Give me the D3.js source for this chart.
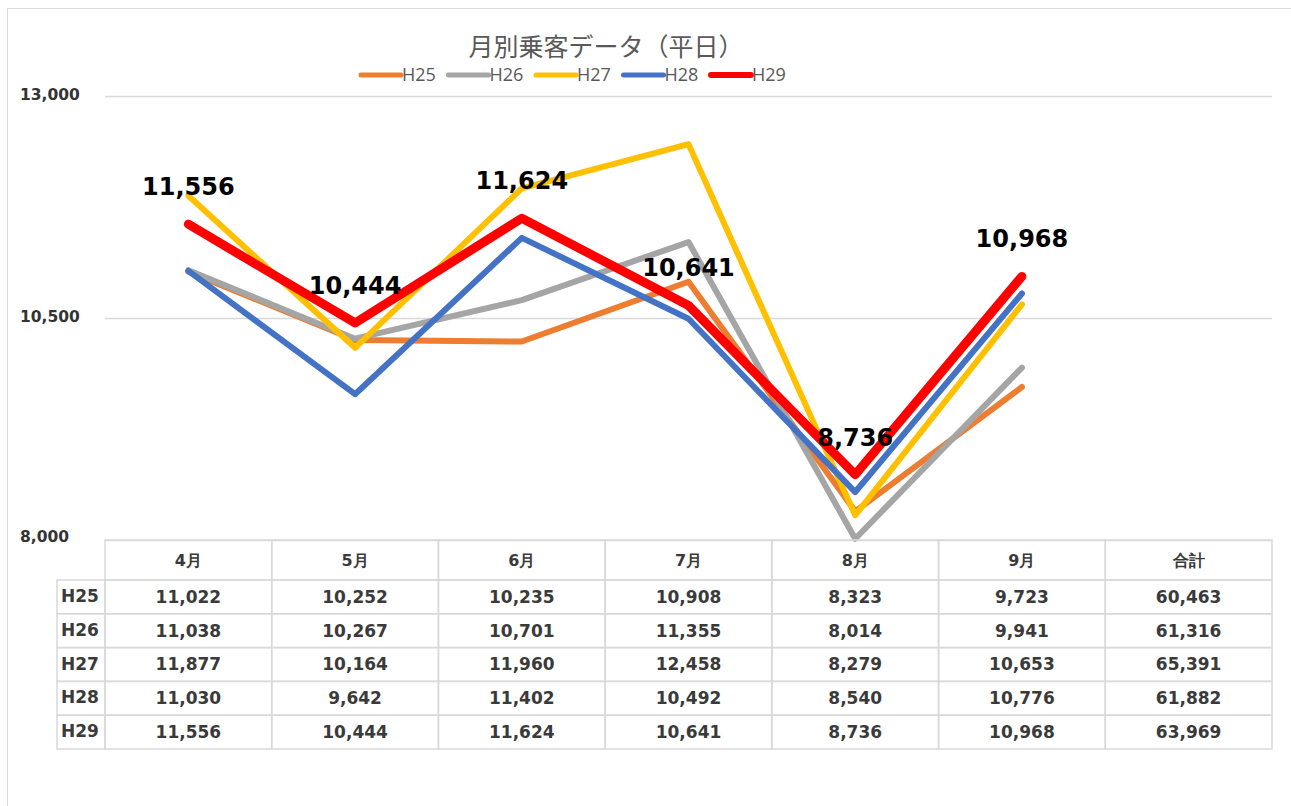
<!DOCTYPE html>
<html>
<head>
<meta charset="utf-8">
<script src="https://cdn.jsdelivr.net/npm/d3@7"></script>
<style>
  body { margin: 0; background: #fff; }
  svg { display: block; }
</style>
</head>
<body>
<div id="chart"></div>
<script>
// chart data
var months = ["4月", "5月", "6月", "7月", "8月", "9月"];
var columns = ["4月", "5月", "6月", "7月", "8月", "9月", "合計"];
var seriesNames = ["H25", "H26", "H27", "H28", "H29"];
var h25 = [11022, 10252, 10235, 10908, 8323, 9723];
var h26 = [11038, 10267, 10701, 11355, 8014, 9941];
var h27 = [11877, 10164, 11960, 12458, 8279, 10653];
var h28 = [11030, 9642, 11402, 10492, 8540, 10776];
var h29 = [11556, 10444, 11624, 10641, 8736, 10968];
var totals = [60463, 61316, 65391, 61882, 63969];
var yTicks = [8000, 10500, 13000];
var colors = ["#ED7D31", "#A5A5A5", "#FFC000", "#4472C4", "#FF0000"];

var seriesValues = [h25, h26, h27, h28, h29];

var svgWidth = 1291;
var svgHeight = 806;

var plot = { left: 105, right: 1272, top: 96, bottom: 540 };

var svg = d3.select("#chart")
  .append("svg")
  .attr("width", svgWidth)
  .attr("height", svgHeight);

// outer chart frame
svg.append("rect")
  .attr("x", 7.5)
  .attr("y", 8.5)
  .attr("width", 1300)
  .attr("height", 820)
  .attr("fill", "#fff")
  .attr("stroke", "#d9d9d9");

var xScale = d3.scaleBand()
  .domain(columns)
  .range([plot.left, plot.right]);

var yScale = d3.scaleLinear()
  .domain([8000, 13000])
  .range([plot.bottom, plot.top]);

// gridlines + tick labels
var yAxis = d3.axisLeft(yScale)
  .tickValues(yTicks)
  .tickSize(-(plot.right - plot.left))
  .tickFormat(d3.format(","));

var yAxisG = svg.append("g")
  .attr("transform", `translate(${plot.left}, 0)`)
  .call(yAxis);

yAxisG.select(".domain").remove();
yAxisG.selectAll(".tick line")
  .attr("stroke", "#d9d9d9")
  .attr("stroke-width", 1.5);
yAxisG.selectAll(".tick text")
  .attr("x", 20 - plot.left)
  .attr("dy", "0.2em")
  .attr("text-anchor", "start")
  .attr("fill", "#333")
  .style("font-family", "'DejaVu Sans', sans-serif")
  .style("font-weight", "bold")
  .style("font-size", "15.5px");
// the 8,000 label sits a bit above the baseline
yAxisG.selectAll(".tick")
  .filter(d => d === 8000)
  .select("text")
  .attr("dy", "0.1em");

// title
svg.append("text")
  .attr("x", 606)
  .attr("y", 56)
  .attr("text-anchor", "middle")
  .attr("fill", "#595959")
  .style("font-family", "'Noto Sans CJK JP', sans-serif")
  .style("font-size", "25px")
  .text("月別乗客データ（平日）");

// legend
var legend = svg.append("g")
  .attr("transform", "translate(361, 75)");

var legendItems = legend.selectAll("g")
  .data(seriesNames)
  .enter()
  .append("g")
  .attr("transform", (d, i) => `translate(${i * 87.5}, 0)`);

legendItems.append("line")
  .attr("x1", 0)
  .attr("x2", 40)
  .attr("y1", 0)
  .attr("y2", 0)
  .attr("stroke", (d, i) => colors[i])
  .attr("stroke-width", (d, i) => i === 4 ? 6 : 5)
  .attr("stroke-linecap", "round");

legendItems.append("text")
  .attr("x", 41)
  .attr("y", 0)
  .attr("dy", "0.35em")
  .attr("fill", "#595959")
  .style("font-family", "'Open Sans', sans-serif")
  .style("font-size", "18px")
  .text(d => d);

// lines
var line = d3.line()
  .x((d, i) => xScale(months[i]) + xScale.bandwidth() / 2)
  .y(d => yScale(d));

svg.append("g")
  .selectAll("path")
  .data(seriesValues)
  .enter()
  .append("path")
  .attr("d", d => line(d))
  .attr("fill", "none")
  .attr("stroke", (d, i) => colors[i])
  .attr("stroke-width", (d, i) => i === 4 ? 9 : 6)
  .attr("stroke-linejoin", "round")
  .attr("stroke-linecap", "round");

// data labels for H29
svg.append("g")
  .selectAll("text")
  .data(h29)
  .enter()
  .append("text")
  .attr("x", (d, i) => xScale(months[i]) + xScale.bandwidth() / 2)
  .attr("y", d => yScale(d) - 29)
  .attr("text-anchor", "middle")
  .attr("fill", "#000")
  .style("font-family", "'DejaVu Sans', sans-serif")
  .style("font-weight", "bold")
  .style("font-size", "24px")
  .text(d => d3.format(",")(d));

// data table
var headerTop = 540;
var headerHeight = 40;
var rowHeight = 33.8;
var labelLeft = 57;
var tableFont = "'DejaVu Sans', sans-serif";
var tableColor = "#3a3a3a";
var borderColor = "#d9d9d9";

var table = svg.append("g");

// header cells
table.selectAll(".hcell")
  .data(columns)
  .enter()
  .append("rect")
  .attr("class", "hcell")
  .attr("x", d => xScale(d))
  .attr("y", headerTop)
  .attr("width", xScale.bandwidth())
  .attr("height", headerHeight)
  .attr("fill", "none")
  .attr("stroke", borderColor)
  .attr("stroke-width", 1.5);

table.selectAll(".htext")
  .data(columns)
  .enter()
  .append("text")
  .attr("class", "htext")
  .attr("x", d => xScale(d) + xScale.bandwidth() / 2)
  .attr("y", headerTop + headerHeight / 2)
  .attr("dy", "0.35em")
  .attr("text-anchor", "middle")
  .attr("fill", tableColor)
  .style("font-family", tableFont)
  .style("font-weight", "bold")
  .style("font-size", "16px")
  .text(d => d);

// body rows
var rows = table.selectAll(".row")
  .data(seriesNames)
  .enter()
  .append("g")
  .attr("class", "row")
  .attr("transform", (d, i) => `translate(0, ${headerTop + headerHeight + i * rowHeight})`);

rows.append("rect")
  .attr("x", labelLeft)
  .attr("y", 0)
  .attr("width", plot.left - labelLeft)
  .attr("height", rowHeight)
  .attr("fill", "none")
  .attr("stroke", borderColor)
  .attr("stroke-width", 1.5);

rows.append("text")
  .attr("x", labelLeft + 4)
  .attr("y", rowHeight / 2)
  .attr("dy", "0.3em")
  .attr("fill", tableColor)
  .style("font-family", tableFont)
  .style("font-weight", "bold")
  .style("font-size", "17px")
  .text(d => d);

rows.each(function(name, r) {
  var cells = seriesValues[r].concat([totals[r]]);
  var rowG = d3.select(this);

  rowG.selectAll(".cell")
    .data(cells)
    .enter()
    .append("rect")
    .attr("class", "cell")
    .attr("x", (d, i) => xScale(columns[i]))
    .attr("y", 0)
    .attr("width", xScale.bandwidth())
    .attr("height", rowHeight)
    .attr("fill", "none")
    .attr("stroke", borderColor)
    .attr("stroke-width", 1.5);

  rowG.selectAll(".ctext")
    .data(cells)
    .enter()
    .append("text")
    .attr("class", "ctext")
    .attr("x", (d, i) => xScale(columns[i]) + xScale.bandwidth() / 2)
    .attr("y", rowHeight / 2)
    .attr("dy", "0.35em")
    .attr("text-anchor", "middle")
    .attr("fill", tableColor)
    .style("font-family", tableFont)
    .style("font-weight", "bold")
    .style("font-size", "17px")
    .text(d => d3.format(",")(d));
});
</script>
</body>
</html>
